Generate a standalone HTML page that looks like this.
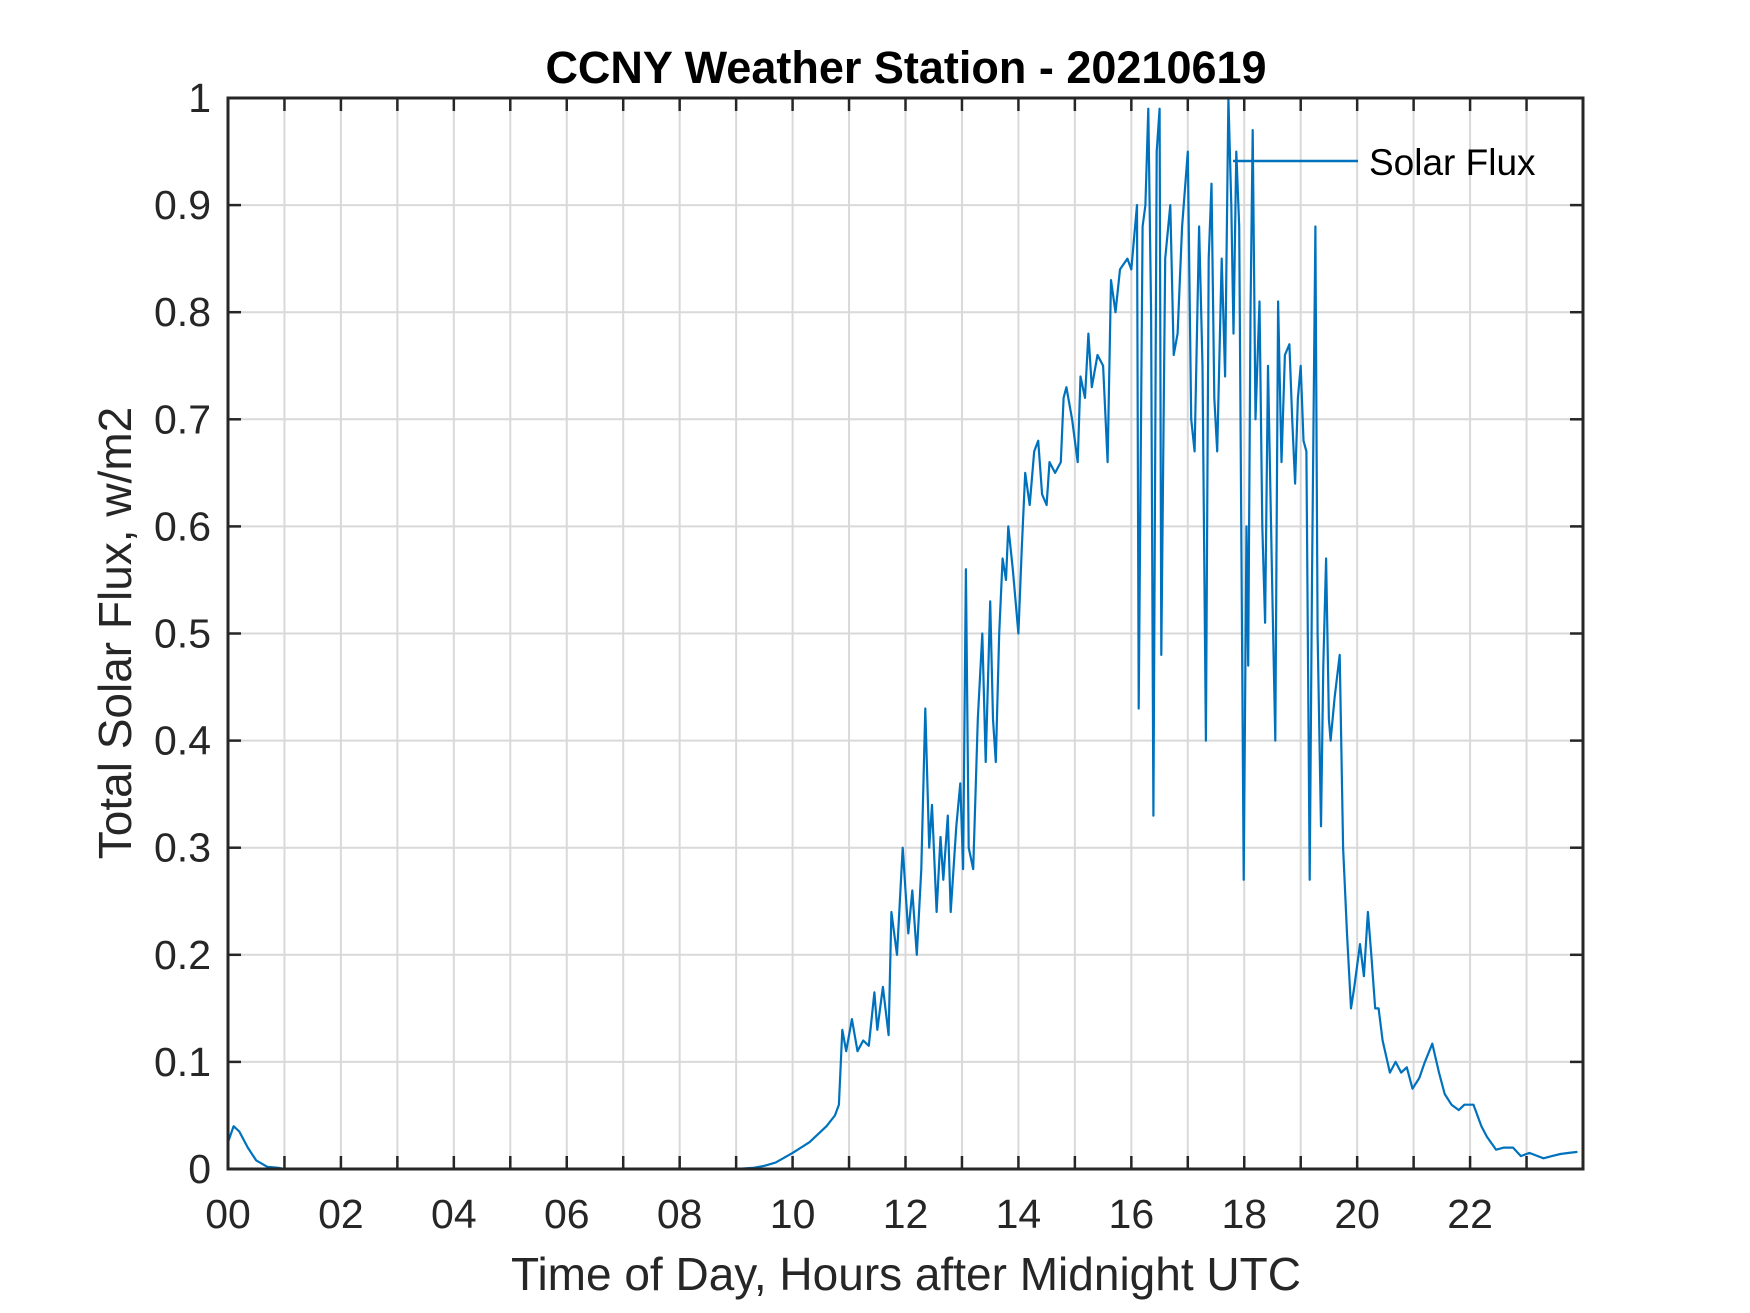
<!DOCTYPE html>
<html><head><meta charset="utf-8"><style>
html,body{margin:0;padding:0;background:#fff;}
svg{display:block;font-family:"Liberation Sans",Arial,sans-serif;}
</style></head><body>
<svg id="chart" width="1750" height="1313" viewBox="0 0 1750 1313" xmlns="http://www.w3.org/2000/svg">
<rect width="1750" height="1313" fill="#fff"/>
<g id="grid"></g>
<g id="series"></g>
<g id="axes"></g>
<text x="906" y="83" text-anchor="middle" font-size="45" font-weight="bold" fill="#000">CCNY Weather Station - 20210619</text>
<text x="906" y="1290" text-anchor="middle" font-size="46" fill="#262626">Time of Day, Hours after Midnight UTC</text>
<text transform="translate(131,633) rotate(-90)" text-anchor="middle" font-size="46" fill="#262626">Total Solar Flux, w/m2</text>
<g>
<line x1="1233" y1="161" x2="1358" y2="161" stroke="#0072BD" stroke-width="2.5"/>
<text x="1369" y="175" font-size="37" fill="#000">Solar Flux</text>
</g>
</svg>
<script>
const hours = [0,0.1,0.2,0.35,0.5,0.7,0.9,1.0,3,6,9.0,9.3,9.5,9.7,10.0,10.3,10.6,10.75,10.82,10.88,10.95,11.05,11.15,11.25,11.35,11.45,11.5,11.6,11.7,11.75,11.85,11.95,12.05,12.12,12.2,12.28,12.35,12.42,12.47,12.55,12.62,12.67,12.75,12.8,12.9,12.97,13.02,13.07,13.12,13.2,13.28,13.36,13.42,13.5,13.55,13.6,13.66,13.72,13.78,13.82,13.9,14.0,14.06,14.12,14.2,14.28,14.35,14.42,14.5,14.55,14.65,14.75,14.8,14.85,14.95,15.05,15.1,15.18,15.24,15.3,15.4,15.5,15.58,15.64,15.72,15.8,15.93,16.0,16.1,16.13,16.2,16.25,16.3,16.35,16.39,16.45,16.5,16.53,16.6,16.69,16.75,16.82,16.9,17.0,17.06,17.12,17.2,17.26,17.32,17.37,17.42,17.47,17.52,17.6,17.66,17.72,17.77,17.81,17.86,17.91,17.99,18.04,18.07,18.11,18.15,18.2,18.27,18.32,18.37,18.42,18.5,18.55,18.6,18.66,18.72,18.8,18.85,18.9,18.95,19.0,19.05,19.1,19.16,19.2,19.26,19.3,19.36,19.4,19.45,19.5,19.53,19.6,19.69,19.75,19.82,19.89,19.95,20.05,20.12,20.19,20.25,20.32,20.38,20.45,20.58,20.68,20.78,20.88,20.98,21.1,21.2,21.33,21.45,21.55,21.67,21.8,21.9,22.06,22.2,22.3,22.46,22.6,22.76,22.9,23.05,23.2,23.3,23.45,23.6,23.75,23.9,24.0];
const flux = [0.025,0.04,0.035,0.02,0.008,0.002,0.001,0,0,0,0,0.001,0.003,0.006,0.015,0.025,0.04,0.05,0.06,0.13,0.11,0.14,0.11,0.12,0.115,0.165,0.13,0.17,0.125,0.24,0.2,0.3,0.22,0.26,0.2,0.28,0.43,0.3,0.34,0.24,0.31,0.27,0.33,0.24,0.32,0.36,0.28,0.56,0.3,0.28,0.42,0.5,0.38,0.53,0.42,0.38,0.5,0.57,0.55,0.6,0.56,0.5,0.58,0.65,0.62,0.67,0.68,0.63,0.62,0.66,0.65,0.66,0.72,0.73,0.7,0.66,0.74,0.72,0.78,0.73,0.76,0.75,0.66,0.83,0.8,0.84,0.85,0.84,0.9,0.43,0.88,0.9,0.99,0.8,0.33,0.95,0.99,0.48,0.85,0.9,0.76,0.78,0.88,0.95,0.7,0.67,0.88,0.75,0.4,0.85,0.92,0.72,0.67,0.85,0.74,1.0,0.9,0.78,0.95,0.88,0.27,0.6,0.47,0.8,0.97,0.7,0.81,0.6,0.51,0.75,0.53,0.4,0.81,0.66,0.76,0.77,0.7,0.64,0.72,0.75,0.68,0.67,0.27,0.55,0.88,0.5,0.32,0.47,0.57,0.42,0.4,0.44,0.48,0.3,0.22,0.15,0.17,0.21,0.18,0.24,0.2,0.15,0.15,0.12,0.09,0.1,0.09,0.095,0.075,0.085,0.1,0.117,0.09,0.07,0.06,0.055,0.06,0.06,0.04,0.03,0.018,0.02,0.02,0.012,0.015,0.012,0.01,0.012,0.014,0.015,0.016];
const xTickLabels = ["00","02","04","06","08","10","12","14","16","18","20","22"];
const yTickValues = [0,0.1,0.2,0.3,0.4,0.5,0.6,0.7,0.8,0.9,1];
const yTickLabels = ["0","0.1","0.2","0.3","0.4","0.5","0.6","0.7","0.8","0.9","1"];

const L=228,R=1583,T=98,B=1169;
const xs = h => L + (h/24)*(R-L);
const ys = v => B - v*(B-T);
const NS="http://www.w3.org/2000/svg";
function mk(tag, parent, attrs){const e=document.createElementNS(NS,tag);for(const k in attrs)e.setAttribute(k,attrs[k]);parent.appendChild(e);return e;}
const grid=document.getElementById('grid'), axes=document.getElementById('axes'), series=document.getElementById('series');

for(let h=1;h<24;h++){
  const g=mk('line',grid,{x1:xs(h),x2:xs(h),y1:T,y2:B,stroke:'#d9d9d9','stroke-width':2});
  
  
  const t1=mk('line',axes,{x1:xs(h),x2:xs(h),y1:B,y2:B-13,stroke:'#262626','stroke-width':2.5});
  
  
  const t2=mk('line',axes,{x1:xs(h),x2:xs(h),y1:T,y2:T+13,stroke:'#262626','stroke-width':2.5});
  
  
}
xTickLabels.forEach((lab,i)=>{
  const t=mk('text',axes,{x:xs(i*2),y:1228,'text-anchor':'middle','font-size':41,fill:'#262626'});
  t.textContent=lab;
  
  
});
yTickValues.forEach((v,i)=>{
  if(v>0&&v<1){
    const g=mk('line',grid,{x1:L,x2:R,y1:ys(v),y2:ys(v),stroke:'#d9d9d9','stroke-width':2});
    
    
  }
  const t1=mk('line',axes,{x1:L,x2:L+13,y1:ys(v),y2:ys(v),stroke:'#262626','stroke-width':2.5});
  
  
  const t2=mk('line',axes,{x1:R,x2:R-13,y1:ys(v),y2:ys(v),stroke:'#262626','stroke-width':2.5});
  
  
  const t=mk('text',axes,{x:211,y:ys(v)+14,'text-anchor':'end','font-size':41,fill:'#262626'});
  t.textContent=yTickLabels[i];
  
  
});
const box=mk('rect',axes,{x:L,y:T,width:R-L,height:B-T,fill:'none',stroke:'#262626','stroke-width':3});



let d='';
hours.forEach((h,i)=>{d+=(i?'L':'M')+xs(h).toFixed(1)+' '+ys(flux[i]).toFixed(1);});
const line=mk('path',series,{d:d,fill:'none',stroke:'#0072BD','stroke-width':2.2,'stroke-linejoin':'round'});


</script>
</body></html>
